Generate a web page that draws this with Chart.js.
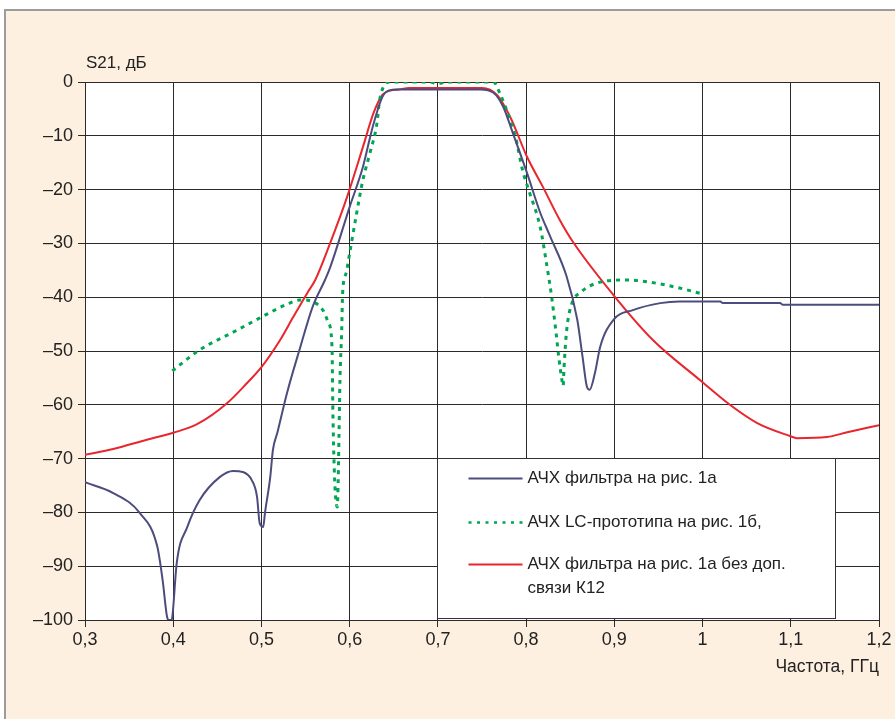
<!DOCTYPE html>
<html>
<head>
<meta charset="utf-8">
<script src="https://cdn.jsdelivr.net/npm/chart.js@4/dist/chart.umd.min.js"></script>
<style>
  html, body { margin: 0; padding: 0; background: #ffffff; }
  #frame { position: absolute; left: 4px; top: 9px; width: 889px; height: 708px;
           background: #fef0e0; border-left: 2px solid #9c9c9c; border-top: 2px solid #9c9c9c; }
  #wrap { position: absolute; left: 0; top: 0; width: 895px; height: 719px; }
</style>
</head>
<body>
<div id="frame"></div>
<div id="wrap"><canvas id="c"></canvas></div>
<script>
// ---- Data ----
const xTitle = "Частота, ГГц";
const yTitle = "S21, дБ";

const legendLabels = [
  ["АЧХ фильтра на рис. 1а"],
  ["АЧХ LC-прототипа на рис. 1б,"],
  ["АЧХ фильтра на рис. 1а без доп.", "связи К12"]
];

// Series 1: filter of Fig. 1a (blue)
const freqA = [0.300,0.332,0.362,0.382,0.388,0.393,0.395,0.398,0.399,0.404,0.416,0.430,0.453,0.468,0.479,0.489,0.495,0.498,0.502,0.504,0.510,0.513,0.518,0.529,0.544,0.558,0.572,0.578,0.600,0.615,0.626,0.637,0.644,0.655,0.700,0.748,0.763,0.774,0.785,0.801,0.816,0.827,0.846,0.858,0.864,0.869,0.872,0.878,0.884,0.899,0.921,0.952,0.974,1.020,1.023,1.088,1.091,1.200];
const dbA   = [-74.4,-76.4,-80.1,-86.4,-92.6,-99.4,-100,-100,-99.4,-89.4,-82.7,-77.7,-73.4,-72.3,-72.5,-74.0,-77.1,-82.0,-82.7,-80.1,-73.4,-68.4,-65.2,-57.8,-49.3,-41.8,-36.8,-34.4,-23.2,-15.8,-8.4,-2.8,-1.6,-1.4,-1.4,-1.4,-2.0,-4.6,-9.5,-16.9,-24.3,-28.6,-36.2,-44.2,-51.1,-56.7,-57.2,-54.1,-49.2,-44.2,-42.4,-41.1,-40.8,-40.8,-41.1,-41.1,-41.4,-41.4];

// Series 2: LC prototype of Fig. 1b (green dotted)
const freqB = [0.399,0.430,0.468,0.500,0.529,0.544,0.559,0.570,0.576,0.580,0.581,0.583,0.585,0.586,0.587,0.588,0.589,0.591,0.592,0.596,0.600,0.608,0.615,0.623,0.631,0.634,0.646,0.690,0.700,0.710,0.763,0.770,0.782,0.788,0.796,0.804,0.816,0.823,0.829,0.834,0.837,0.841,0.842,0.843,0.846,0.852,0.861,0.884,0.914,0.940,0.974,1.000];
const dbB   = [-53.7,-49.8,-46.5,-43.7,-41.3,-40.5,-40.9,-42.5,-44.8,-49.3,-61.5,-74.0,-78.5,-79.0,-74.0,-64.7,-55.4,-46.0,-39.3,-35.5,-31.8,-24.3,-18.2,-13.2,-7.6,-3.3,0,0,-0.3,0,0,-2.0,-7.1,-10.2,-16.4,-20.6,-27.0,-33.6,-40.0,-46.7,-51.1,-55.8,-56.5,-53.0,-46.1,-41.1,-39.2,-37.2,-36.8,-37.2,-38.3,-39.4];

// Series 3: filter of Fig. 1a without extra coupling K12 (red)
const freqC = [0.300,0.332,0.370,0.400,0.427,0.461,0.484,0.500,0.521,0.536,0.552,0.561,0.578,0.597,0.615,0.627,0.637,0.646,0.655,0.668,0.750,0.767,0.782,0.801,0.819,0.838,0.853,0.899,0.944,0.997,1.031,1.062,1.099,1.107,1.141,1.164,1.200];
const dbC   = [-69.3,-68.2,-66.5,-65.2,-63.6,-59.7,-55.9,-53.0,-48.0,-43.7,-39.2,-36.8,-29.9,-21.4,-12.1,-5.8,-2.4,-1.6,-1.4,-1.1,-1.1,-2.4,-6.5,-13.9,-19.5,-25.6,-29.7,-39.6,-48.0,-55.4,-60.0,-63.4,-65.8,-66.2,-66.0,-65.1,-63.8];

const xMin = 0.3, xMax = 1.2, xStep = 0.1;
const yMin = -100, yMax = 0, yStep = 10;

// ---- Build ----
const toPts = (xs, ys) => xs.map((x, i) => ({x, y: ys[i]}));
const FONT = '"Liberation Sans", Arial, sans-serif';
const colors = ['#4c4c7e', '#00a651', '#e8262e'];

const decor = {
  id: 'decor',
  beforeDraw(chart) {
    const {ctx, chartArea: a} = chart;
    ctx.save();
    ctx.fillStyle = '#ffffff';
    ctx.fillRect(a.left, a.top, a.right - a.left, a.bottom - a.top);
    ctx.restore();
  },
  afterDatasetsDraw(chart) {
    const {ctx, scales: {x, y}} = chart;
    const L = Math.round(x.getPixelForValue(0.7)) - 0.5;
    const R = Math.round(x.getPixelForValue(1.15)) + 0.5;
    const T = Math.round(y.getPixelForValue(-69.8)) + 0.5;
    const B = Math.round(y.getPixelForValue(-99.6)) + 0.5;
    ctx.save();
    ctx.fillStyle = '#ffffff';
    ctx.fillRect(L, T, R - L, B - T);
    ctx.strokeStyle = '#333333';
    ctx.lineWidth = 1;
    ctx.strokeRect(L, T, R - L, B - T);
    const rows = [20, 64, 106];
    ctx.font = '17px ' + FONT;
    ctx.fillStyle = '#222222';
    ctx.textBaseline = 'middle';
    chart.data.datasets.forEach((ds, i) => {
      const yy = T + rows[i];
      ctx.beginPath();
      ctx.strokeStyle = ds.borderColor;
      ctx.lineWidth = i === 1 ? 2.7 : 2;
      ctx.setLineDash(i === 1 ? [3, 5.5] : []);
      ctx.moveTo(L + 31, yy);
      ctx.lineTo(L + 85, yy);
      ctx.stroke();
      ctx.setLineDash([]);
      legendLabels[i].forEach((t, k) => ctx.fillText(t, L + 90, yy + k * 24));
    });
    ctx.restore();
  },
  afterDraw(chart) {
    const {ctx, chartArea: a} = chart;
    ctx.save();
    ctx.fillStyle = '#222222';
    ctx.textBaseline = 'middle';
    ctx.textAlign = 'left';
    ctx.font = '17px ' + FONT;
    ctx.fillText(yTitle, a.left + 1, a.top - 19);
    ctx.textAlign = 'right';
    ctx.font = '17.5px ' + FONT;
    ctx.fillText(xTitle, a.right, a.bottom + 47);
    ctx.restore();
  }
};

const fmtX = v => String(Math.round(v * 10) / 10).replace('.', ',');
const fmtY = v => (v < 0 ? '\u2013' + Math.abs(Math.round(v)) : String(Math.round(v)));

new Chart(document.getElementById('c'), {
  type: 'line',
  data: {
    datasets: [
      { label: legendLabels[0].join(' '), data: toPts(freqA, dbA), borderColor: colors[0], borderWidth: 2, pointRadius: 0, fill: false, cubicInterpolationMode: 'monotone' },
      { label: legendLabels[1].join(' '), data: toPts(freqB, dbB), borderColor: colors[1], borderWidth: 3, borderDash: [4, 5], pointRadius: 0, fill: false, cubicInterpolationMode: 'monotone' },
      { label: legendLabels[2].join(' '), data: toPts(freqC, dbC), borderColor: colors[2], borderWidth: 2, pointRadius: 0, fill: false, cubicInterpolationMode: 'monotone' }
    ]
  },
  options: {
    responsive: true,
    maintainAspectRatio: false,
    animation: false,
    devicePixelRatio: 1,
    layout: { padding: { left: 0, top: 82, right: 16, bottom: 0 } },
    plugins: { legend: { display: false }, tooltip: { enabled: false } },
    scales: {
      x: {
        type: 'linear', min: xMin, max: xMax,
        afterFit: s => { s.height = 99; },
        ticks: { stepSize: xStep, callback: fmtX, color: '#222222', font: { family: FONT, size: 18 }, padding: 2, maxRotation: 0, autoSkip: false },
        grid: { color: '#2a2a2a', lineWidth: 1, tickLength: 7, drawTicks: true },
        border: { display: true, color: '#2a2a2a' }
      },
      y: {
        type: 'linear', min: yMin, max: yMax,
        afterFit: s => { s.width = 85; },
        ticks: { stepSize: yStep, callback: fmtY, color: '#222222', font: { family: FONT, size: 18 }, padding: 5 },
        grid: { color: '#2a2a2a', lineWidth: 1, tickLength: 7, drawTicks: true },
        border: { display: true, color: '#2a2a2a' }
      }
    }
  },
  plugins: [decor]
});
</script>
</body>
</html>
